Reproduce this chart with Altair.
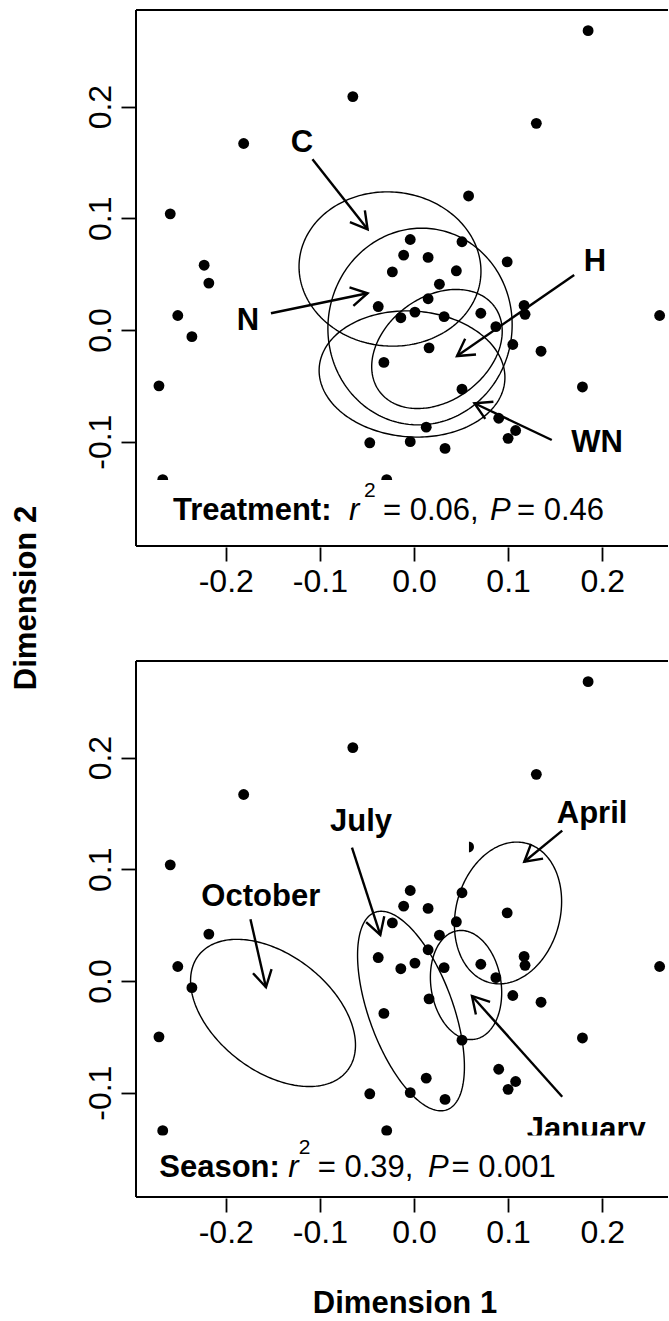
import math
import numpy as np
import pandas as pd
import altair as alt

FONT = "Liberation Sans"

# ---- site scores on the two ordination axes ----
dim1 = [0.185, -0.065, 0.130, -0.181, -0.259, 0.058, -0.223, -0.218, 0.099,
        -0.004, 0.051, -0.011, 0.015, -0.023, 0.045, 0.027, 0.015, -0.038,
        -0.251, -0.014, 0.001, 0.032, 0.071, 0.117, 0.118, 0.087, 0.261,
        -0.236, 0.016, 0.105, 0.135, -0.032, -0.271, 0.051, 0.179, 0.090,
        0.108, 0.100, 0.013, -0.047, -0.004, 0.033, -0.267, -0.029]
dim2 = [0.268, 0.209, 0.185, 0.167, 0.104, 0.120, 0.058, 0.042, 0.061,
        0.081, 0.079, 0.067, 0.065, 0.052, 0.053, 0.041, 0.028, 0.021,
        0.013, 0.011, 0.016, 0.012, 0.015, 0.022, 0.014, 0.003, 0.013,
        -0.006, -0.016, -0.013, -0.019, -0.029, -0.050, -0.053, -0.051, -0.079,
        -0.090, -0.097, -0.087, -0.101, -0.100, -0.106, -0.134, -0.134]

# ---- treatment ellipses: centre and conjugate semi-axis vectors ----
treat_names = ["C", "N", "WN", "H"]
treat_cx = [-0.0255, 0.0064, -0.0021, 0.0244]
treat_cy = [0.0546, 0.0031, -0.0394, -0.0170]
treat_u = [(0.0964, -0.0071), (0.0146, 0.0873), (0.0986, -0.0058), (0.0611, 0.0380)]
treat_v = [(-0.0071, -0.0687), (0.0968, -0.0115), (-0.0047, -0.0562), (0.0328, -0.0374)]
treat_label_x = [-0.1190, -0.1764, 0.1945, 0.1923]
treat_label_y = [0.1674, 0.0081, -0.1012, 0.0609]
treat_arrow_x0 = [-0.1079, -0.1520, 0.1464, 0.1702]
treat_arrow_y0 = [0.1528, 0.0150, -0.0985, 0.0492]
treat_arrow_x1 = [-0.0493, -0.0493, 0.0642, 0.0457]
treat_arrow_y1 = [0.0902, 0.0329, -0.0656, -0.0233]
treat_stat_text = ["Treatment:", "r", "2", "= 0.06,", "P", "= 0.46"]
treat_stat_x = [-0.2561, -0.0691, -0.0531, -0.0329, 0.0808, 0.1095]
treat_stat_y = [-0.1701, -0.1701, -0.1495, -0.1701, -0.1701, -0.1701]

# ---- season ellipses ----
season_names = ["October", "July", "January", "April"]
season_cx = [-0.1498, -0.0032, 0.0553, 0.0999]
season_cy = [-0.0286, -0.0269, -0.0036, 0.0609]
season_u = [(0.0791, -0.0515), (0.0382, -0.0884), (0.0090, -0.0486), (0.0198, 0.0623)]
season_v = [(-0.0377, -0.0411), (-0.0420, -0.0129), (-0.0368, -0.0048), (0.0534, -0.0121)]
season_label_x = [-0.1628, -0.0563, 0.1831, 0.1892]
season_label_y = [0.0748, 0.1423, -0.1334, 0.1495]
season_arrow_x0 = [-0.1738, -0.0659, 0.1575, 0.1575]
season_arrow_y0 = [0.0552, 0.1193, -0.1036, 0.1346]
season_arrow_x1 = [-0.1573, -0.0358, 0.0616, 0.1172]
season_arrow_y1 = [-0.0056, 0.0412, -0.0134, 0.1068]
season_stat_text = ["Season:", "r", "2", "= 0.39,", "P", "= 0.001"]
season_stat_x = [-0.2707, -0.1335, -0.1225, -0.1023, 0.0148, 0.0399]
season_stat_y = [-0.1755, -0.1755, -0.1549, -0.1755, -0.1755, -0.1755]

stat_styles = ["bold", "italic", "sup", "regular", "italic", "regular"]

tick_x = [-0.2, -0.1, 0.0, 0.1, 0.2]
tick_y = [-0.1, 0.0, 0.1, 0.2]

# ---- geometry of each panel ----
W, H = 532, 536
XDOM = [-0.2954, 0.2699]
YDOM = [-0.1934, 0.2865]
KX = W / (XDOM[1] - XDOM[0])
KY = H / (YDOM[1] - YDOM[0])

xs = alt.Scale(domain=XDOM, nice=False, zero=False)
ys = alt.Scale(domain=YDOM, nice=False, zero=False)
LABEL_EXPR = "(datum.value < 0 ? '-' : '') + format(abs(datum.value), '.1f')"
XAXIS = alt.Axis(values=tick_x, labelExpr=LABEL_EXPR, title=None, domain=False,
                 grid=False, ticks=True, tickSize=14, tickWidth=1.8, tickColor="black",
                 offset=1, labelFont=FONT, labelFontSize=32, labelColor="black",
                 labelPadding=5, labelBaseline="top", labelFlush=False,
                 labelOverlap=False)
YAXIS = alt.Axis(values=tick_y, labelExpr=LABEL_EXPR, title=None, domain=False,
                 grid=False, ticks=True, tickSize=14, tickWidth=1.8, tickColor="black",
                 offset=1, labelFont=FONT, labelFontSize=32, labelColor="black",
                 labelPadding=11, labelAngle=270, labelAlign="center",
                 labelBaseline="alphabetic", labelFlush=False, labelOverlap=False)


def X(field):
    return alt.X(field, type="quantitative", scale=xs, axis=XAXIS)


def Y(field):
    return alt.Y(field, type="quantitative", scale=ys, axis=YAXIS)


HEAD = "M -0.577 1 L 0 0 L 0.577 1"
one_row = pd.DataFrame({"k": [0]})


def white_boxes(rows):
    box = pd.DataFrame(rows, columns=["bx1", "bx2", "by1", "by2"])
    return alt.Chart(box).mark_rect(color="white", opacity=1).encode(
        x=X("bx1"), x2="bx2", y=Y("by1"), y2="by2")


def panel(names, cx, cy, u, v, lx, ly, ax0, ay0, ax1, ay1,
          stat_text, stat_x, stat_y, under_boxes, stat_box, extras):
    t = np.linspace(0, 2 * np.pi, 241)
    rows = []
    for n, x0, y0, (ux, uy), (vx, vy) in zip(names, cx, cy, u, v):
        for i, tt in enumerate(t):
            rows.append({"g": n, "i": i,
                         "x": x0 + ux * math.cos(tt) + vx * math.sin(tt),
                         "y": y0 + uy * math.cos(tt) + vy * math.sin(tt)})
    ell = pd.DataFrame(rows)

    pts = pd.DataFrame({"d1": dim1, "d2": dim2})

    arr = pd.DataFrame({"sx": ax0, "sy": ay0, "tx": ax1, "ty": ay1})
    arr["ang"] = [
        math.degrees(math.atan2((b - a) * KX, (d - c) * KY)) % 360
        for a, b, c, d in zip(ax0, ax1, ay0, ay1)
    ]
    labs = pd.DataFrame({"name": names, "lx": lx, "ly": ly})
    stat = pd.DataFrame({"t": stat_text, "x": stat_x, "y": stat_y, "s": stat_styles})

    layers = [
        alt.Chart(ell).mark_line(color="black", strokeWidth=1.4, clip=True).encode(
            x=X("x"), y=Y("y"), detail="g:N", order="i:Q"),
        alt.Chart(pts).mark_circle(size=118, color="black", opacity=1, clip=True).encode(
            x=X("d1"), y=Y("d2")),
    ]
    if under_boxes:
        layers.append(white_boxes(under_boxes))
    layers += [
        alt.Chart(arr).mark_rule(color="black", strokeWidth=2.4).encode(
            x=X("sx"), y=Y("sy"), x2="tx", y2="ty"),
        alt.Chart(arr).mark_point(shape=HEAD, filled=False, size=1089, color="black",
                                  strokeWidth=2.4, opacity=1, strokeJoin="miter").encode(
            x=X("tx"), y=Y("ty"), angle=alt.Angle("ang:Q", scale=None)),
        alt.Chart(labs).mark_text(font=FONT, fontSize=31, fontWeight="bold", color="black",
                                  align="center", baseline="middle").encode(
            x=X("lx"), y=Y("ly"), text="name:N"),
        white_boxes(stat_box),
    ]
    styles = {
        "bold": dict(fontWeight="bold", fontSize=31),
        "italic": dict(fontStyle="italic", fontSize=31),
        "regular": dict(fontSize=31),
        "sup": dict(fontSize=21),
    }
    for s, p in styles.items():
        layers.append(
            alt.Chart(stat).transform_filter(alt.datum.s == s).mark_text(
                font=FONT, align="left", baseline="alphabetic", color="black", **p
            ).encode(x=X("x"), y=Y("y"), text="t:N"))
    # plot frame: left, top and bottom edges
    layers += [
        alt.Chart(one_row).mark_rule(color="black", strokeWidth=2).encode(
            x=alt.value(0), y=alt.value(0), y2=alt.value(H)),
        alt.Chart(one_row).mark_rule(color="black", strokeWidth=2).encode(
            x=alt.value(0), x2=alt.value(W), y=alt.value(0)),
        alt.Chart(one_row).mark_rule(color="black", strokeWidth=2).encode(
            x=alt.value(0), x2=alt.value(W), y=alt.value(H)),
    ]
    layers += extras
    return alt.layer(*layers).properties(width=W, height=H)


top_extras = [
    alt.Chart(one_row).mark_point(size=1, opacity=0).encode(
        x=alt.value(-135.5), y=alt.value(-9.5)),
    alt.Chart(one_row).mark_text(text="Dimension 2", font=FONT, fontSize=31,
                                 fontWeight="bold", color="black", angle=270,
                                 align="center", baseline="alphabetic").encode(
        x=alt.value(-100), y=alt.value(588)),
]
bottom_extras = [
    alt.Chart(one_row).mark_text(text="Dimension 1", font=FONT, fontSize=31,
                                 fontWeight="bold", color="black",
                                 align="center", baseline="alphabetic").encode(
        x=alt.value(269), y=alt.value(652)),
]

# white boxes behind the annotation text
treat_stat_box = [(-0.2806, 0.2274, YDOM[0], -0.1343)]
season_stat_box = [(-0.2806, 0.2561, YDOM[0], -0.1383)]
season_label_boxes = [(-0.0893, 0.0584, 0.1146, 0.1620),
                      (-0.2327, -0.0914, 0.0528, 0.0940)]

top = panel(treat_names, treat_cx, treat_cy, treat_u, treat_v,
            treat_label_x, treat_label_y,
            treat_arrow_x0, treat_arrow_y0, treat_arrow_x1, treat_arrow_y1,
            treat_stat_text, treat_stat_x, treat_stat_y,
            [], treat_stat_box, top_extras)
bottom = panel(season_names, season_cx, season_cy, season_u, season_v,
               season_label_x, season_label_y,
               season_arrow_x0, season_arrow_y0, season_arrow_x1, season_arrow_y1,
               season_stat_text, season_stat_x, season_stat_y,
               season_label_boxes, season_stat_box, bottom_extras)

chart = alt.vconcat(top, bottom, spacing=115, bounds="flush").configure_view(
    stroke=None).properties(padding=0, background="white")

chart.save("out.html", embed_options={"renderer": "svg", "actions": False})
